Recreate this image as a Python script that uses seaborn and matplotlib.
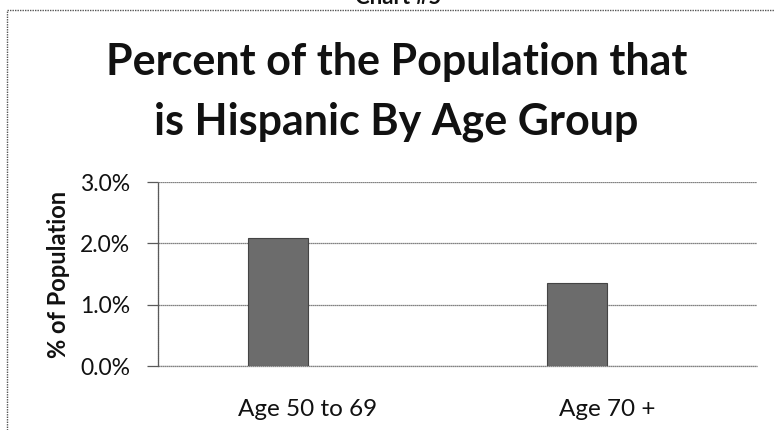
import matplotlib
matplotlib.use("Agg")
import matplotlib.pyplot as plt
from matplotlib.lines import Line2D
from matplotlib.ticker import PercentFormatter, MultipleLocator
import seaborn as sns
import pandas as pd

# data
age_groups = ["Age 50 to 69", "Age 70 +"]
pct_hispanic = [2.08, 1.35]
# Excel left an empty second series, so the bars sit left of centre
series = ["Hispanic", "(blank)"]
blank = [None, None]

title_lines = ["Percent of the Population that", "is Hispanic By Age Group"]
ylabel = "% of Population"

df = pd.DataFrame({
    "group": age_groups * 2,
    "series": [series[0]] * 2 + [series[1]] * 2,
    "value": pct_hispanic + blank,
})

sns.set_theme(style="white")
plt.rcParams["font.family"] = ["Lato", "DejaVu Sans"]

fig = plt.figure(figsize=(7.74, 4.3), dpi=100)
ax = fig.add_axes([0.2041, 0.1488, 0.978 - 0.2041, 0.5767 - 0.1488])

sns.barplot(data=df, x="group", y="value", hue="series", ax=ax,
            palette=["#6c6c6c", "#6c6c6c"], width=0.4, dodge=True,
            edgecolor="#444444", linewidth=0.8, legend=False, errorbar=None)

ax.set_ylim(0, 3.0)
ax.yaxis.set_major_locator(MultipleLocator(1.0))
ax.yaxis.set_major_formatter(PercentFormatter(decimals=1))
ax.set_xlim(-0.5, 1.5)

grid_style = dict(color="#5a5a5a", linewidth=0.9, linestyle=(0, (1, 0.6)))
ax.grid(axis="y", **grid_style)
ax.axhline(0, clip_on=False, zorder=0.5, **grid_style)
ax.set_axisbelow(True)
for s in ["top", "right", "bottom"]:
    ax.spines[s].set_visible(False)
ax.spines["left"].set_color("#5a5a5a")
ax.spines["left"].set_linewidth(0.9)
ax.spines["left"].set_linestyle((0, (1, 0.6)))

ax.tick_params(axis="y", which="major", left=True, length=8, width=0.9,
               color="#5a5a5a", labelsize=16.5, pad=12, labelcolor="#111111")
ax.tick_params(axis="x", bottom=False, labelsize=17.5, pad=18, labelcolor="#111111")
ax.set_xlabel("")
ax.set_ylabel(ylabel, fontsize=17, fontweight="bold", labelpad=7, color="#111111")

# two-line title, baselines at about 75 px and 134 px from the top
for line, ypx in zip(title_lines, [75, 134]):
    fig.text(0.512, 1 - ypx / 430, line, ha="center", va="baseline", fontsize=31,
             fontweight="bold", color="#111111")

# cut-off heading above the chart box, only its foot shows
fig.text(0.514, 1 - 4 / 430, "Chart #5", ha="center", va="baseline", fontsize=16,
         fontweight="bold", color="#111111")

# chart box border (only the top and left edges are in the picture)
border = dict(color="#555555", linewidth=1.0, linestyle=(0, (1, 0.8)))
top_y = 1 - 10 / 430
left_x = 7 / 774
fig.add_artist(Line2D([left_x, 1.0], [top_y, top_y], transform=fig.transFigure, **border))
fig.add_artist(Line2D([left_x, left_x], [0.0, top_y], transform=fig.transFigure, **border))

fig.savefig("out.png", dpi=100)
